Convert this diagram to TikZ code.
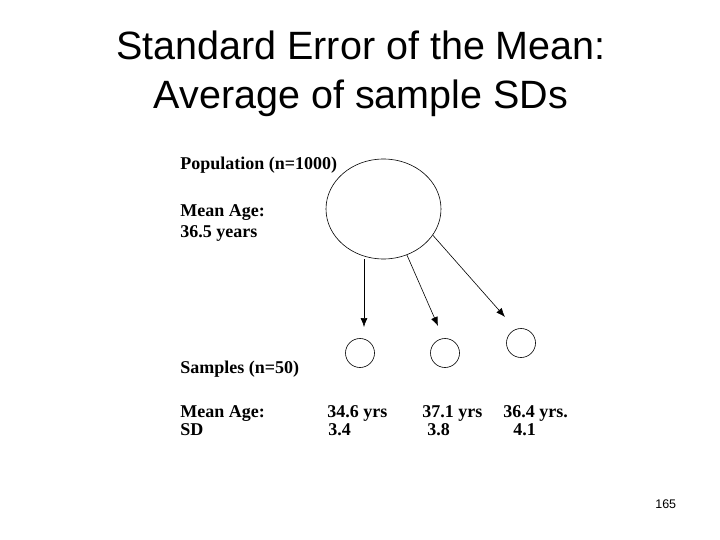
\documentclass[tikz,border=0pt]{standalone}
\usepackage{fontspec}
\setmainfont{Liberation Serif}
\newfontfamily\slidefont{Liberation Sans}
\usetikzlibrary{shapes,arrows,arrows.meta}
\usetikzlibrary{positioning}
\tikzset{population/.style={ellipse,draw,minimum width=115pt,minimum height=100pt,inner sep=0pt},
sample/.style={circle,draw,minimum size=29pt,inner sep=0pt},
label text/.style={anchor=base west,inner sep=0pt,font=\fontsize{18}{20}\selectfont\bfseries},
slide title/.style={anchor=base,inner sep=0pt,font=\slidefont\fontsize{39.5}{46}\selectfont}
}

\begin{document}
\begin{tikzpicture}[x=1pt, y=-1pt, line width=0.6pt]
        \useasboundingbox (0,0) rectangle (720,540);
        \node[slide title] (t_1) at (361,60)  {Standard Error of the Mean:};
        \node[slide title] (t_2) at (361,109) {Average of sample SDs};

        \node[population]  (pop)  at (383.5,209) {};
        \node[sample]      (s_1)  at (360,353)   {};
        \node[sample]      (s_2)  at (445,353)   {};
        \node[sample]      (s_3)  at (521,343)   {};

        % arrow heads stop short of the samples
        \coordinate (e_1) at (364,327);
        \coordinate (e_2) at (438,326);
        \coordinate (e_3) at (505,317);

        \path[-{Latex[length=9pt,width=7pt]}] (e_1 |- pop.south) edge (e_1)
                                              (pop.297) edge (e_2)
                                              (pop.332) edge (e_3);

        \node[label text] (pop_n)  at (180,170) {Population (n=1000)};
        \node[label text] (pop_m)  at (180,217) {Mean Age:};
        \node[label text] (pop_y)  at (180,237) {36.5 years};

        \node[label text] (smp_n)  at (180,373) {Samples (n=50)};
        \node[label text] (smp_m)  at (180,417) {Mean Age:};
        \node[label text] (smp_sd) at (180,435) {SD};

        \node[label text] (m_1) at (327,417) {34.6 yrs};
        \node[label text] (m_2) at (422,417) {37.1 yrs};
        \node[label text] (m_3) at (503,417) {36.4 yrs.};
        \node[label text] (d_1) at (328,435) {3.4};
        \node[label text] (d_2) at (427,435) {3.8};
        \node[label text] (d_3) at (513,435) {4.1};

        \node[anchor=base west, inner sep=0pt, font=\slidefont\fontsize{12.5}{14}\selectfont] (page) at (655,508) {165};
\end{tikzpicture}
\end{document}
